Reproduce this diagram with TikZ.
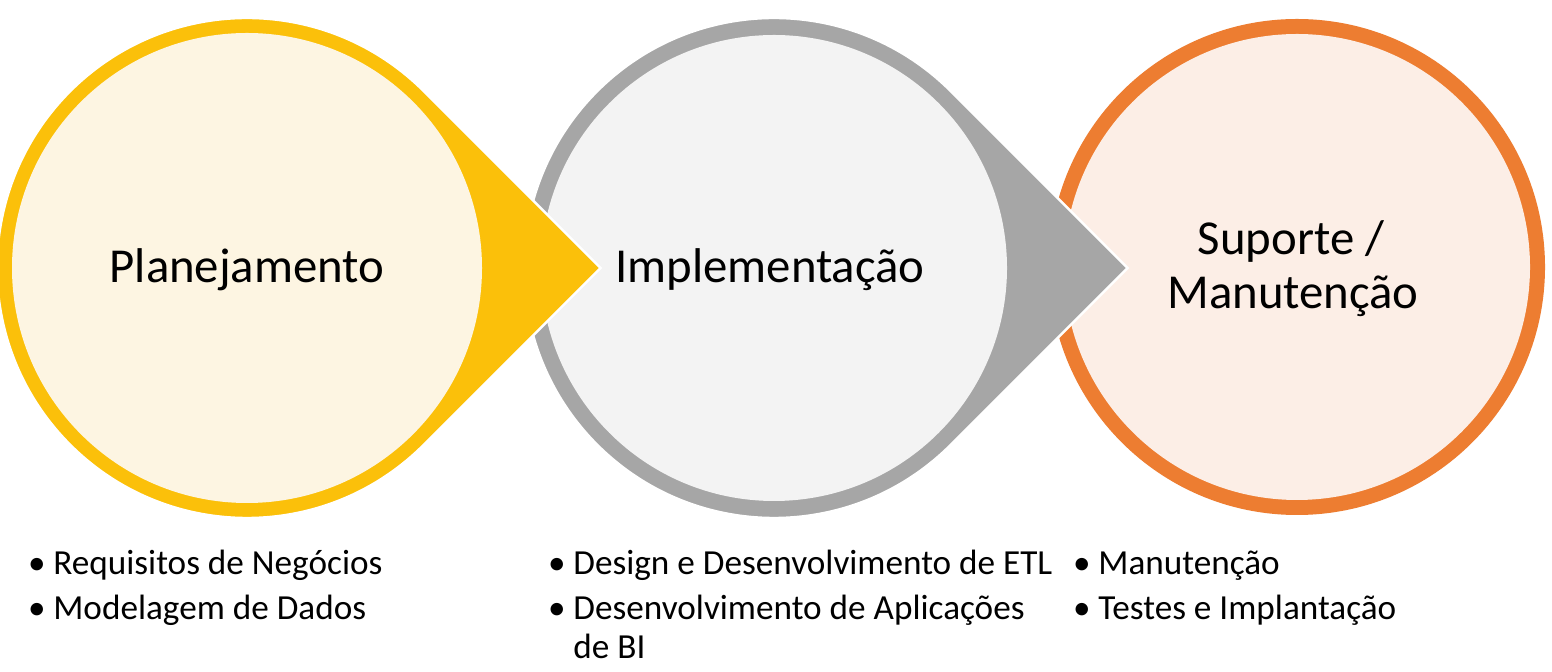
\documentclass[tikz,border=0pt]{standalone}
\usepackage{fontspec}
\setmainfont{Carlito}
\usetikzlibrary{calc}
\definecolor{gold}{HTML}{FBC00A}
\definecolor{goldlight}{HTML}{FDF5E2}
\definecolor{grayring}{HTML}{A6A6A6}
\definecolor{graylight}{HTML}{F3F3F3}
\definecolor{orangering}{HTML}{ED7D31}
\definecolor{orangelight}{HTML}{FCEEE6}
\tikzset{
  title/.style={font=\fontsize{24.4}{29}\selectfont, inner sep=0pt, anchor=base},
  item/.style={font=\fontsize{17.6}{21}\selectfont, inner sep=0pt, anchor=base west},
  bul/.style={font=\fontsize{17.6}{21}\selectfont, inner sep=0pt, anchor=base},
}
\begin{document}
\begin{tikzpicture}[x=0.5pt,y=-0.5pt]
\useasboundingbox[fill=white] (0,0) rectangle (1552,672);
\coordinate (cY) at (247,268);
\coordinate (cG) at (774,268);
\coordinate (cO) at (1297,267);
% orange circle
\fill[orangering] (cO) circle[radius=248];
\fill[orangelight] (cO) circle[radius=233];
% gray teardrop
\draw[white, line width=1.2, fill=grayring] ($(cG)+(45:250)$) arc[start angle=45, end angle=315, radius=250] -- ($(cG)+(353.6,0)$) -- cycle;
\fill[graylight] (cG) circle[radius=233];
% yellow teardrop
\draw[white, line width=1.2, fill=gold] ($(cY)+(45:250)$) arc[start angle=45, end angle=315, radius=250] -- ($(cY)+(353.6,0)$) -- cycle;
\fill[goldlight] (cY) circle[radius=235];
% titles
\node[title] (t1) at (247,283) {Planejamento};
\node[title] (t2) at (770,283) {Implementação};
\node[title] (t3a) at (1291,255) {Suporte /};
\node[title] (t3b) at (1293,309) {Manutenção};
% lists
\node[bul] (b1) at (37,575) {•};
\node[item] (i1) at (53,575) {Requisitos de Negócios};
\node[bul] (b2) at (37,620) {•};
\node[item] (i2) at (53,620) {Modelagem de Dados};
\node[bul] (b3) at (557,575) {•};
\node[item] (i3) at (573,575) {Design e Desenvolvimento de ETL};
\node[bul] (b4) at (557,620) {•};
\node[item] (i4) at (573,620) {Desenvolvimento de Aplicações};
\node[item] (i5) at (573,659) {de BI};
\node[bul] (b5) at (1082,575) {•};
\node[item] (i6) at (1098,575) {Manutenção};
\node[bul] (b6) at (1082,620) {•};
\node[item] (i7) at (1098,620) {Testes e Implantação};
\end{tikzpicture}
\end{document}
